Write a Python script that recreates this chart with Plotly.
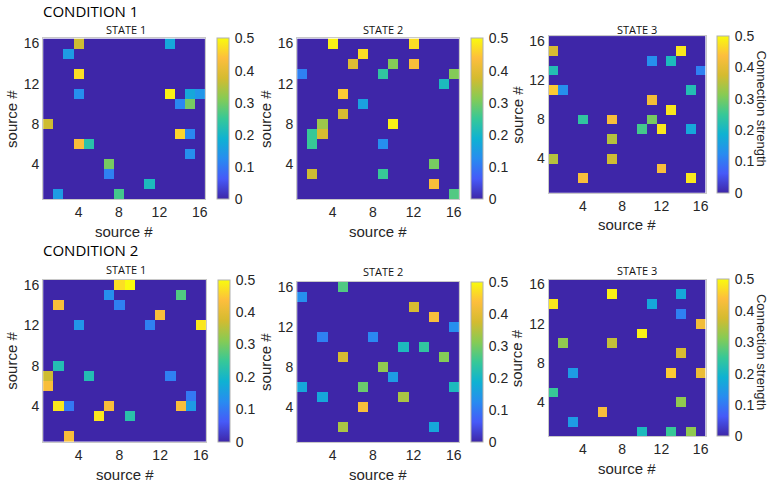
import plotly.graph_objects as go

W, H = 773, 483
N = 16
axis_ticks = [4, 8, 12, 16]
cbar_ticks = [0, 0.1, 0.2, 0.3, 0.4, 0.5]
cbar_ticktext = ["0", "0.1", "0.2", "0.3", "0.4", "0.5"]
condition_titles = ["CONDITION 1", "CONDITION 2"]
state_titles = ["STATE 1", "STATE 2", "STATE 3"]

# Non-zero connections per panel: source column (x), source row (y), strength
c1s1_x = [4, 3, 4, 4, 13, 13, 15, 16, 14, 15, 1, 14, 15, 15, 4, 5, 7, 7, 11, 2, 8]
c1s1_y = [16, 15, 13, 11, 16, 11, 11, 11, 10, 10, 8, 7, 7, 5, 6, 6, 4, 3, 2, 1, 1]
c1s1_v = [0.37, 0.15, 0.47, 0.13, 0.17, 0.49, 0.17, 0.14, 0.12, 0.30, 0.37, 0.46, 0.12,
          0.13, 0.43, 0.23, 0.30, 0.11, 0.21, 0.15, 0.26]

c1s2_x = [4, 12, 7, 6, 10, 12, 1, 9, 16, 15, 5, 7, 5, 3, 10, 2, 3, 2, 9, 14, 2, 9, 14, 16]
c1s2_y = [16, 16, 15, 14, 14, 14, 13, 13, 13, 12, 11, 10, 9, 8, 8, 7, 7, 6, 6, 4, 3, 3, 2, 1]
c1s2_v = [0.49, 0.47, 0.47, 0.39, 0.31, 0.43, 0.11, 0.24, 0.31, 0.21, 0.45, 0.16, 0.38,
          0.33, 0.49, 0.25, 0.38, 0.25, 0.13, 0.30, 0.37, 0.25, 0.43, 0.27]

c1s3_x = [1, 14, 11, 13, 1, 16, 1, 2, 15, 11, 13, 4, 7, 11, 10, 12, 15, 7, 1, 7, 12, 4, 15]
c1s3_y = [15, 15, 14, 14, 13, 13, 11, 11, 11, 10, 9, 8, 8, 8, 7, 7, 7, 6, 4, 4, 3, 2, 2]
c1s3_v = [0.38, 0.48, 0.13, 0.21, 0.22, 0.11, 0.45, 0.13, 0.22, 0.42, 0.48, 0.24, 0.43,
          0.30, 0.26, 0.48, 0.17, 0.35, 0.35, 0.37, 0.43, 0.43, 0.48]

c2s1_x = [8, 9, 7, 14, 2, 8, 12, 4, 11, 16, 2, 1, 5, 13, 1, 15, 2, 3, 7, 14, 15, 6, 9, 3]
c2s1_y = [16, 16, 15, 15, 14, 14, 13, 12, 12, 12, 8, 7, 7, 7, 6, 5, 4, 4, 4, 4, 4, 3, 3, 1]
c2s1_v = [0.47, 0.50, 0.13, 0.27, 0.43, 0.11, 0.43, 0.14, 0.11, 0.48, 0.22, 0.37, 0.22,
          0.11, 0.43, 0.10, 0.48, 0.10, 0.43, 0.43, 0.15, 0.48, 0.23, 0.43]

c2s2_x = [5, 1, 12, 14, 16, 3, 8, 11, 13, 5, 15, 9, 10, 1, 7, 16, 3, 11, 7, 5, 14]
c2s2_y = [16, 15, 14, 13, 12, 11, 11, 10, 10, 9, 9, 8, 7, 6, 6, 6, 5, 5, 4, 2, 2]
c2s2_v = [0.27, 0.13, 0.38, 0.43, 0.13, 0.11, 0.12, 0.21, 0.24, 0.38, 0.31, 0.32, 0.15,
          0.17, 0.29, 0.21, 0.17, 0.34, 0.43, 0.34, 0.17]

c2s3_x = [7, 14, 1, 11, 14, 16, 10, 2, 7, 14, 3, 13, 16, 1, 14, 6, 3, 10, 13, 15]
c2s3_y = [15, 15, 14, 14, 13, 12, 11, 10, 10, 9, 7, 7, 7, 5, 4, 3, 2, 1, 1, 1]
c2s3_v = [0.49, 0.17, 0.48, 0.17, 0.11, 0.42, 0.49, 0.32, 0.36, 0.38, 0.15, 0.45, 0.41,
          0.25, 0.32, 0.43, 0.15, 0.21, 0.25, 0.32]

panels = [
    (c1s1_x, c1s1_y, c1s1_v),
    (c1s2_x, c1s2_y, c1s2_v),
    (c1s3_x, c1s3_y, c1s3_v),
    (c2s1_x, c2s1_y, c2s1_v),
    (c2s2_x, c2s2_y, c2s2_v),
    (c2s3_x, c2s3_y, c2s3_v),
]

parula = [
    [0.000, "rgb(62,38,168)"],
    [0.125, "rgb(70,90,248)"],
    [0.250, "rgb(40,140,240)"],
    [0.375, "rgb(15,178,210)"],
    [0.500, "rgb(55,200,151)"],
    [0.625, "rgb(135,203,84)"],
    [0.750, "rgb(212,187,48)"],
    [0.875, "rgb(253,190,61)"],
    [1.000, "rgb(249,251,14)"],
]

# layout geometry in pixels: (left, right, top, bottom) of each image
boxes = [
    (43.3, 205.7, 35.7, 197.7),
    (298.3, 460.7, 35.7, 197.7),
    (550.7, 708.3, 33.3, 191.0),
    (43.3, 206.7, 278.3, 441.7),
    (298.3, 460.7, 280.7, 441.7),
    (550.7, 708.3, 278.3, 436.0),
]
cbar_left = [218, 473, 720, 219, 473, 720]
state_title_pos = [(126.3, 26.5), (384.3, 26.5), (639.3, 26.5),
                   (126.3, 268.5), (384.2, 270), (639.2, 269.5)]

TICKFONT = dict(family="Liberation Sans, Arial, sans-serif", size=14, color="#262626")
fig = go.Figure()
annotations = []
for i, (xs, ys, vs) in enumerate(panels):
    z = [[0.0] * N for _ in range(N)]
    for x, y, v in zip(xs, ys, vs):
        z[y - 1][x - 1] = v
    l, r, t, b = boxes[i]
    k = i + 1
    xa = "x" if k == 1 else f"x{k}"
    ya = "y" if k == 1 else f"y{k}"
    fig.add_trace(go.Heatmap(
        z=z, x=list(range(1, N + 1)), y=list(range(1, N + 1)),
        colorscale=parula, zmin=0, zmax=0.5,
        xaxis=xa, yaxis=ya,
        colorbar=dict(
            x=cbar_left[i] / W, xanchor="left", xpad=0, ypad=0,
            y=1 - (t + b) / 2 / H, yanchor="middle",
            len=(b - t) / H, lenmode="fraction",
            thickness=12, thicknessmode="pixels",
            outlinewidth=1, outlinecolor="#b0b0b0",
            tickvals=cbar_ticks, ticktext=cbar_ticktext,
            ticks="outside", ticklen=3, tickcolor="rgba(0,0,0,0)",
            tickfont=TICKFONT,
        ),
        hovertemplate="x=%{x}, y=%{y}: %{z}<extra></extra>",
    ))
    axname_x = "xaxis" if k == 1 else f"xaxis{k}"
    axname_y = "yaxis" if k == 1 else f"yaxis{k}"
    fig.update_layout(**{
        axname_x: dict(domain=[l / W, r / W], anchor=ya, range=[0.5, 16.5],
                       tickvals=axis_ticks, ticks="", showgrid=False, zeroline=False,
                       showline=True, mirror=True, linecolor="#c8c8c8", linewidth=1,
                       tickfont=TICKFONT),
        axname_y: dict(domain=[1 - b / H, 1 - t / H], anchor=xa, range=[0.5, 16.5],
                       tickvals=axis_ticks, ticks="", showgrid=False, zeroline=False,
                       showline=True, mirror=True, linecolor="#c8c8c8", linewidth=1,
                       tickfont=TICKFONT),
    })
    sx, sy = state_title_pos[i]
    annotations.append(dict(text=state_titles[i % 3], x=sx / W, y=1 - sy / H,
                            xref="paper", yref="paper", xanchor="center", yanchor="middle",
                            showarrow=False, borderpad=0,
                            font=dict(family="Open Sans, sans-serif", size=11, color="#111")))
    # axis titles
    annotations.append(dict(text="source #", x=(l + r) / 2 / W, y=1 - (b + 32.3) / H,
                            xref="paper", yref="paper", xanchor="center", yanchor="middle",
                            showarrow=False,
                            font=dict(family="Liberation Sans, Arial, sans-serif", size=15,
                                      color="#262626")))
    annotations.append(dict(text="source #", x=(l - 31.3) / W, y=1 - (t + b) / 2 / H,
                            xref="paper", yref="paper", xanchor="center", yanchor="middle",
                            textangle=-90, showarrow=False,
                            font=dict(family="Liberation Sans, Arial, sans-serif", size=15,
                                      color="#262626")))
    if i % 3 == 2:
        annotations.append(dict(text="Connection strength", x=764 / W,
                                y=1 - (t + b) / 2 / H + 6 / H,
                                xref="paper", yref="paper", xanchor="center", yanchor="middle",
                                textangle=90, showarrow=False,
                                font=dict(family="Liberation Sans, Arial, sans-serif", size=13,
                                          color="#262626")))

for j, (ty) in enumerate([8.5, 248.5]):
    annotations.append(dict(text=condition_titles[j], x=42 / W, y=1 - ty / H,
                            xref="paper", yref="paper", xanchor="left", yanchor="middle",
                            showarrow=False, borderpad=0,
                            font=dict(family="Open Sans, sans-serif", size=15, color="#000")))

fig.update_layout(
    width=W, height=H, margin=dict(l=0, r=0, t=0, b=0),
    paper_bgcolor="white", plot_bgcolor="white",
    annotations=annotations, showlegend=False,
)
fig.write_html("out.html", config={"displayModeBar": False},
               post_script="document.body.style.margin='0';document.body.style.padding='0';")
